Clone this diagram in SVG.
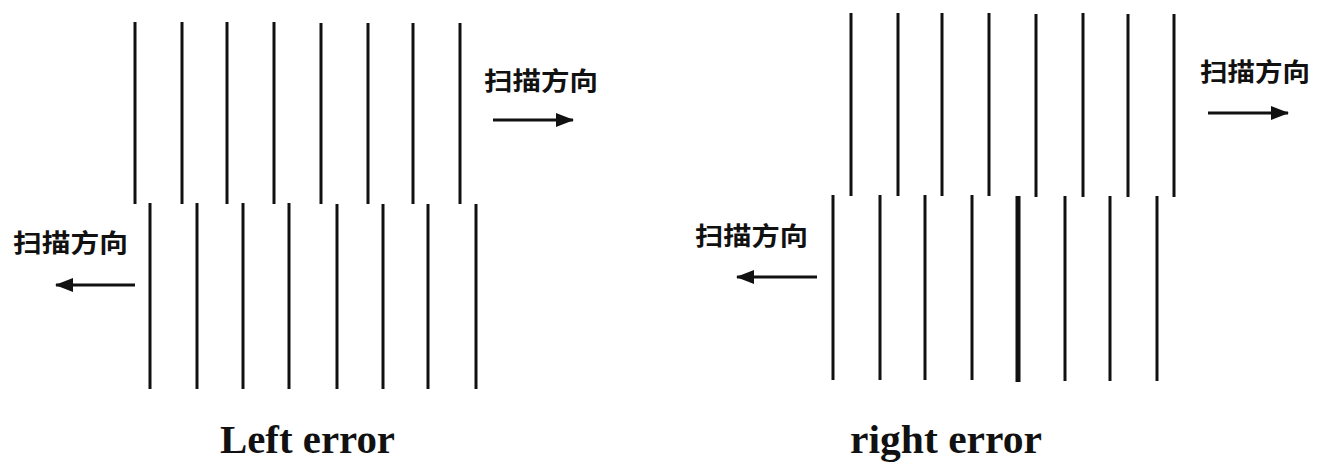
<svg xmlns="http://www.w3.org/2000/svg" width="1324" height="465" viewBox="0 0 1324 465">
<style>
.ln{stroke:#111;stroke-width:3;fill:none}
.ar{stroke:#111;stroke-width:3;fill:none}
.cn{font-family:"Noto Sans CJK SC","Noto Sans CJK JP",sans-serif;font-weight:bold;font-size:25px;fill:#111}
.lb{font-family:"Liberation Serif","Times New Roman",serif;font-weight:bold;font-size:40px;fill:#111}
</style>
<defs>
<marker id="ah" markerWidth="18" markerHeight="14" refX="17" refY="7" orient="auto" markerUnits="userSpaceOnUse">
<path d="M0,0 L18,7 L0,14 Z" fill="#111"/>
</marker>
</defs>
<rect width="1324" height="465" fill="#fff"/>
<g id="left-top">
<path class="ln" d="M135,22V204M182,22V204M227,22V204M274,22V204M321,23V204M368,23V204M413,23V204M460,23V204"/>
</g>
<g id="left-bottom">
<path class="ln" d="M150,203V389M197,203V389M243,203V389M289,203V389M337,204V389M383,204V389M428,204V389M476,204V389"/>
</g>
<g id="right-top">
<path class="ln" d="M851,13V196M898,13V196M942,13V196M989,13V196M1036,14V197M1083,13V197M1128,14V197M1174,14V197"/>
</g>
<g id="right-bottom">
<path class="ln" d="M833,195V380M880,195V380M925,195V380M972,195V380M1065,196V381M1110,196V381M1157,196V381"/>
<path stroke="#111" stroke-width="5" d="M1018,196V382"/>
</g>
<g id="connectors">
<line class="ar" x1="493" y1="120" x2="573" y2="120" marker-end="url(#ah)"/>
<line class="ar" x1="135" y1="285" x2="56" y2="285" marker-end="url(#ah)"/>
<line class="ar" x1="1208" y1="113" x2="1288" y2="113" marker-end="url(#ah)"/>
<line class="ar" x1="817" y1="277" x2="737" y2="277" marker-end="url(#ah)"/>
</g>
<g id="label-lt"><text class="cn" x="484" y="90" textLength="114" lengthAdjust="spacingAndGlyphs">扫描方向</text></g>
<g id="label-lb"><text class="cn" x="13" y="252" textLength="115" lengthAdjust="spacingAndGlyphs">扫描方向</text></g>
<g id="label-rt"><text class="cn" x="1200" y="81" textLength="110" lengthAdjust="spacingAndGlyphs">扫描方向</text></g>
<g id="label-rb"><text class="cn" x="695" y="245" textLength="113" lengthAdjust="spacingAndGlyphs">扫描方向</text></g>
<g id="title-left"><text class="lb" x="220" y="453" textLength="175" lengthAdjust="spacingAndGlyphs">Left error</text></g>
<g id="title-right"><text class="lb" x="850" y="453" textLength="192" lengthAdjust="spacingAndGlyphs">right error</text></g>
</svg>
